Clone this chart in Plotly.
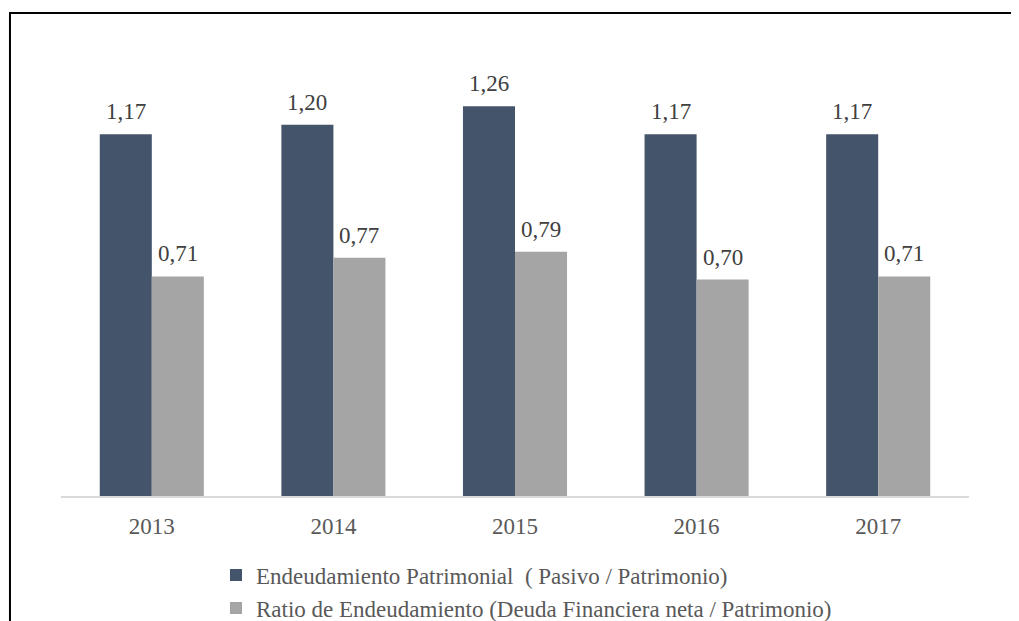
import plotly.graph_objects as go

# Data
years = ["2013", "2014", "2015", "2016", "2017"]
endeudamiento_patrimonial = [1.17, 1.20, 1.26, 1.17, 1.17]
ratio_endeudamiento = [0.71, 0.77, 0.79, 0.70, 0.71]

serie_1 = "Endeudamiento Patrimonial  ( Pasivo / Patrimonio)"
serie_2 = "Ratio de Endeudamiento (Deuda Financiera neta / Patrimonio)"

font_family = "'Liberation Serif', 'Times New Roman', 'DejaVu Serif', serif"

fig = go.Figure()
fig.add_trace(go.Bar(
    x=years, y=endeudamiento_patrimonial, name=serie_1,
    marker=dict(color="#44546A", line=dict(width=0)),
))
fig.add_trace(go.Bar(
    x=years, y=ratio_endeudamiento, name=serie_2,
    marker=dict(color="#A5A5A5", line=dict(width=0)),
))

# value labels sit a little higher above the bars than plotly's default outside text
bar_px = 908 / len(years) * (1 - 0.427) / 2
for values, shift in ((endeudamiento_patrimonial, -bar_px / 2), (ratio_endeudamiento, bar_px / 2)):
    for i, v in enumerate(values):
        fig.add_annotation(
            x=i, y=v, xshift=shift, yshift=8,
            text=f"{v:.2f}".replace(".", ","),
            showarrow=False, yanchor="bottom", xanchor="center",
            font=dict(family=font_family, size=23, color="#404040"),
        )

# page has an 8px body margin, so the figure starts at (8, 8);
# plot area lands at x 61..969, y 63..496 of the window
fig.update_layout(
    width=1019, height=621,
    margin=dict(l=53, r=58, t=55, b=133, autoexpand=False),
    paper_bgcolor="white", plot_bgcolor="white",
    barmode="group", bargap=0.427, bargroupgap=0,
    font=dict(family=font_family, size=23, color="#595959"),
    showlegend=True,
    legend=dict(
        orientation="v", x=0.1707, xanchor="left", y=-0.133, yanchor="top",
        font=dict(family=font_family, size=23, color="#595959"),
        tracegroupgap=0, itemwidth=30, bgcolor="rgba(0,0,0,0)",
    ),
    xaxis=dict(
        type="category", range=[-0.5, len(years) - 0.5], automargin=False,
        showline=True, linecolor="#D9D9D9", linewidth=1.5,
        showgrid=False, ticks="", ticklabelstandoff=9,
        tickfont=dict(family=font_family, size=23, color="#595959"),
    ),
    yaxis=dict(range=[0, 1.4], visible=False, showgrid=False, automargin=False),
)

# outer frame (top and left edges visible in the original)
fig.add_shape(
    type="path", xref="paper", yref="paper",
    path="M -0.0562,-0.45 L -0.0562,1.1155 L 1.1,1.1155",
    line=dict(color="black", width=2),
)

fig.write_html("out.html")
